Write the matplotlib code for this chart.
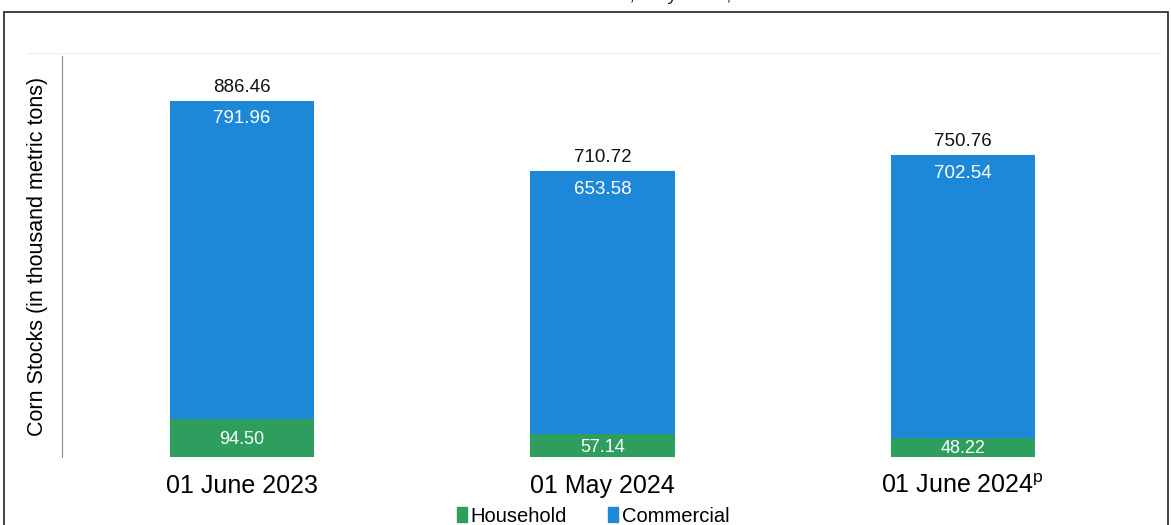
import matplotlib.pyplot as plt
from matplotlib.patches import Rectangle
from matplotlib.lines import Line2D

# data
dates = ["01 June 2023", "01 May 2024", "01 June 2024$^{\\mathregular{p}}$"]
household = [94.50, 57.14, 48.22]
commercial = [791.96, 653.58, 702.54]
totals = [886.46, 710.72, 750.76]

blue = "#1e88d8"
green = "#2e9e5f"

plt.rcParams['font.family'] = ['Liberation Sans', 'DejaVu Sans']

fig = plt.figure(figsize=(11.71, 5.25), dpi=100)
ax = fig.add_axes([62 / 1171, 1 - 457 / 525, (1143 - 62) / 1171, (457 - 55) / 525])

x = range(len(dates))
ax.bar(x, household, width=0.4, color=green)
ax.bar(x, commercial, width=0.4, bottom=household, color=blue)

for i in x:
    ax.text(i, totals[i] + 12, f"{totals[i]:.2f}", ha='center', va='bottom', fontsize=13.5, color='#111111')
    ax.text(i, totals[i] - 45, f"{commercial[i]:.2f}", ha='center', va='center', fontsize=13.5, color='white')
    ax.text(i, household[i] / 2 - 4, f"{household[i]:.2f}", ha='center', va='center', fontsize=13, color='white')

ax.set_xlim(-0.5, 2.5)
ax.set_ylim(0, 1000)
ax.set_yticks([])
ax.set_xticks(list(x))
ax.set_xticklabels(dates, fontsize=18)
ax.tick_params(axis='x', length=0, pad=12)
for s in ['top', 'right', 'bottom']:
    ax.spines[s].set_visible(False)
ax.spines['left'].set_color('#8a8a8a')
ax.spines['left'].set_linestyle((0, (1, 1)))
ax.spines['left'].set_linewidth(0.8)

ax.set_ylabel("Corn Stocks (in thousand metric tons)", fontsize=15.5, labelpad=10)

# faint top line and outer frame
fig.add_artist(Line2D([27 / 1171, 1160 / 1171], [1 - 53 / 525] * 2, color='#eeeeee', lw=0.8))
fig.add_artist(Rectangle((4 / 1171, -0.1), 1164 / 1171, 1.1 - 12 / 525, fill=False,
                         edgecolor='#222222', lw=1.2))

# title cut off at the top of the crop
fig.text(0.55, 1.009, "Corn Stocks: June 2023, May 2024, and June 2024", ha='center', va='center',
         fontsize=14, color='#222222')

handles = [Rectangle((0, 0), 1, 1, color=green), Rectangle((0, 0), 1, 1, color=blue)]
fig.legend(handles, ["Household", "Commercial"], loc='center', bbox_to_anchor=(593 / 1171, 1 - 516 / 525),
           ncol=2, frameon=False, handlelength=0.5, handleheight=0.7, handletextpad=0.2,
           columnspacing=2.0, prop={'size': 14.5})

fig.savefig("out.png", dpi=100)
